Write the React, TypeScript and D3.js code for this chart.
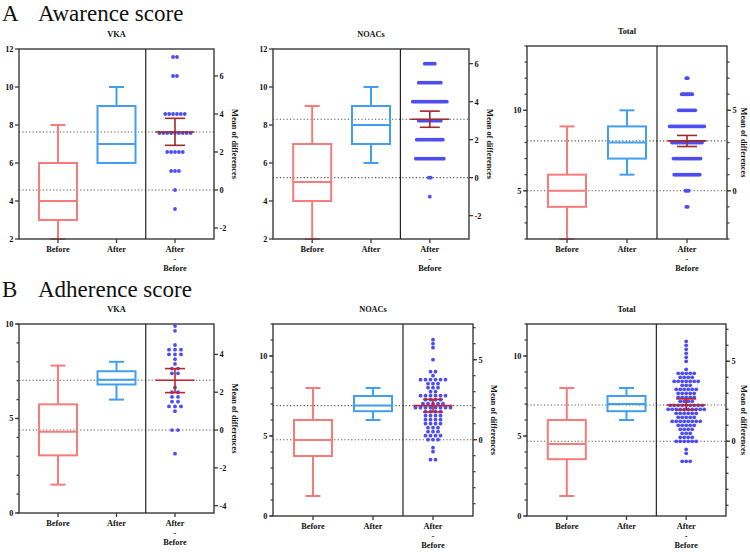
import * as d3 from 'd3'

// categories and titles
const groups = ['Before', 'After', 'After - Before']
const sectionLetters = ['A', 'B']
const sectionTitles = ['Awarence score', 'Adherence score']
const panelTitles = ['VKA', 'NOACs', 'Total']
const rightTitle = 'Mean of differences'

// box stats: [min, q1, median, q3, max]
const awVkaBefore = [2, 3, 4, 6, 8]
const awVkaAfter = [6, 6, 7, 9, 10]
const awNoacBefore = [2, 4, 5, 7, 9]
const awNoacAfter = [6, 7, 8, 9, 10]
const awTotalBefore = [2, 4, 5, 6, 9]
const awTotalAfter = [6, 7, 8, 9, 10]
const adVkaBefore = [1.5, 3.05, 4.3, 5.75, 7.8]
const adVkaAfter = [6, 6.8, 7.05, 7.5, 8]
const adNoacBefore = [1.25, 3.75, 4.75, 6, 8]
const adNoacAfter = [6, 6.55, 6.9, 7.5, 8]
const adTotalBefore = [1.25, 3.55, 4.5, 6, 8]
const adTotalAfter = [6, 6.55, 7, 7.5, 8]

// after - before: levels and number of patients at each level
const awVkaDiffVal = [7, 6, 4, 3, 2, 1, 0, -1]
const awVkaDiffN = [2, 2, 6, 9, 5, 3, 1, 1]
const awNoacDiffVal = [6, 5, 4, 3, 2, 1, 0, -1]
const awNoacDiffN = [6, 12, 18, 12, 14, 15, 2, 1]
const awTotalDiffVal = [7, 6, 5, 4, 3, 2, 1, 0, -1]
const awTotalDiffN = [2, 8, 12, 24, 21, 19, 18, 3, 2]
const adVkaDiffVal = [5.5, 5.25, 4.5, 4.25, 4, 3.75, 3.5, 3.25, 3, 2.25, 2, 1.75, 1.5, 1.25, 1, 0, -1.25]
const adVkaDiffN = [1, 1, 1, 3, 3, 1, 1, 2, 2, 1, 2, 2, 2, 3, 1, 2, 1]
const adNoacDiffVal = [6.25, 6, 5.75, 5, 4.25, 4, 3.75, 3.5, 3.25, 3, 2.75, 2.5, 2.25, 2, 1.75, 1.5, 1.25, 1, 0.75, 0.5, 0.25, 0, -0.5, -0.75, -1.25]
const adNoacDiffN = [1, 1, 1, 1, 2, 1, 6, 3, 3, 2, 6, 4, 5, 8, 4, 4, 4, 4, 3, 3, 4, 3, 1, 1, 2]
const adTotalDiffVal = [6.25, 6, 5.75, 5.5, 5.25, 5, 4.5, 4.25, 4, 3.75, 3.5, 3.25, 3, 2.75, 2.5, 2.25, 2, 1.75, 1.5, 1.25, 1, 0.75, 0.5, 0.25, 0, -0.5, -0.75, -1.25]
const adTotalDiffN = [1, 1, 1, 1, 1, 1, 1, 5, 4, 7, 3, 6, 5, 5, 4, 9, 10, 6, 5, 8, 5, 4, 3, 4, 6, 1, 1, 3]

// mean of differences with 95% CI: [mean, low, high]
const awVkaMean = [3.05, 2.35, 3.77]
const awNoacMean = [3.07, 2.65, 3.5]
const awTotalMean = [3.1, 2.75, 3.44]
const adVkaMean = [2.63, 1.98, 3.25]
const adNoacMean = [2.13, 1.73, 2.52]
const adTotalMean = [2.27, 1.96, 2.65]

// before mean (right axis 0 lines up with it)
const awRef = [4.58, 5.23, 5.0]
const adRef = [4.39, 4.77, 4.67]

// axis ranges and ticks
const awDomains = [[2, 12], [2, 12], [2, 14]]
const adDomains = [[0, 10], [0, 12], [0, 12]]
const awLeftTicks = [[2, 4, 6, 8, 10, 12], [2, 4, 6, 8, 10, 12], [5, 10]]
const awRightTicks = [[-2, 0, 2, 4, 6], [-2, 0, 2, 4, 6], [0, 5]]
const adLeftTicks = [[0, 5, 10], [0, 5, 10], [0, 5, 10]]
const adRightTicks = [[-4, -2, 0, 2, 4], [0, 5], [0, 5]]
const awLeftMinor = [[], [], d3.range(2, 15)]
const awRightMinor = [[], [], d3.range(-3, 9)]
const adLeftMinor = [d3.range(0, 11), d3.range(0, 13), d3.range(0, 13)]
const adRightMinor = [[], d3.range(-4, 8), d3.range(-4, 8)]

// panel frames
const awFrames = [
  { x0: 19, x1: 214, top: 49, bottom: 239 },
  { x0: 273, x1: 469, top: 49, bottom: 239 },
  { x0: 527, x1: 727, top: 46, bottom: 239 },
]
const adFrames = [
  { x0: 19, x1: 214, top: 324, bottom: 513 },
  { x0: 273, x1: 473, top: 324, bottom: 516 },
  { x0: 527, x1: 726, top: 324, bottom: 516 },
]
const awSpacing = [3.9, 2, 1.5]
const adSpacing = [6, 5, 4]

const FONT = '"Liberation Serif", "DejaVu Serif", serif'
const BEFORE_COL = '#f67c7c'
const AFTER_COL = '#429ff0'
const DOT_COL = '#4d4df2'
const AXIS_COL = '#3a3a3a'

const panels = [
  ...[0, 1, 2].map((i) => ({
    frame: awFrames[i],
    title: panelTitles[i],
    domain: awDomains[i],
    ref: awRef[i],
    before: [awVkaBefore, awNoacBefore, awTotalBefore][i],
    after: [awVkaAfter, awNoacAfter, awTotalAfter][i],
    diffVal: [awVkaDiffVal, awNoacDiffVal, awTotalDiffVal][i],
    diffN: [awVkaDiffN, awNoacDiffN, awTotalDiffN][i],
    mean: [awVkaMean, awNoacMean, awTotalMean][i],
    leftTicks: awLeftTicks[i],
    rightTicks: awRightTicks[i],
    leftMinor: awLeftMinor[i],
    rightMinor: awRightMinor[i],
    spacing: awSpacing[i],
    meanCol: '#a3282a',
  })),
  ...[0, 1, 2].map((i) => ({
    frame: adFrames[i],
    title: panelTitles[i],
    domain: adDomains[i],
    ref: adRef[i],
    before: [adVkaBefore, adNoacBefore, adTotalBefore][i],
    after: [adVkaAfter, adNoacAfter, adTotalAfter][i],
    diffVal: [adVkaDiffVal, adNoacDiffVal, adTotalDiffVal][i],
    diffN: [adVkaDiffN, adNoacDiffN, adTotalDiffN][i],
    mean: [adVkaMean, adNoacMean, adTotalMean][i],
    leftTicks: adLeftTicks[i],
    rightTicks: adRightTicks[i],
    leftMinor: adLeftMinor[i],
    rightMinor: adRightMinor[i],
    spacing: adSpacing[i],
    meanCol: '#bd262c',
  })),
]

function Box({ stats, cx, y, color }: any) {
  const [mn, q1, md, q3, mx] = stats
  const bw = 38
  const cw = 15
  return (
    <g stroke={color} strokeWidth={2} fill="none">
      <line x1={cx} x2={cx} y1={y(q3)} y2={y(mx)} />
      <line x1={cx} x2={cx} y1={y(q1)} y2={y(mn)} />
      <line x1={cx - cw / 2} x2={cx + cw / 2} y1={y(mx)} y2={y(mx)} />
      <line x1={cx - cw / 2} x2={cx + cw / 2} y1={y(mn)} y2={y(mn)} />
      <rect x={cx - bw / 2} y={y(q3)} width={bw} height={y(q1) - y(q3)} />
      <line x1={cx - bw / 2} x2={cx + bw / 2} y1={y(md)} y2={y(md)} />
    </g>
  )
}

function Panel({ p }: any) {
  const { x0, x1, top, bottom } = p.frame
  const y = d3.scaleLinear().domain(p.domain).range([bottom, top])
  const y2 = d3.scaleLinear().domain([p.domain[0] - p.ref, p.domain[1] - p.ref]).range([bottom, top])
  const x = d3.scalePoint<string>().domain(groups).range([x0, x1]).padding(2 / 3)
  const xb = x('Before')!
  const xa = x('After')!
  const xd = x('After - Before')!
  const divX = (xa + xd) / 2
  const [m, lo, hi] = p.mean
  const titleX = Math.min(x1 + 21, 744)

  const dots: { cx: number; cy: number }[] = []
  p.diffVal.forEach((v: number, k: number) => {
    const n = p.diffN[k]
    for (let i = 0; i < n; i++) dots.push({ cx: xd + (i - (n - 1) / 2) * p.spacing, cy: y2(v) })
  })

  const lab = { style: { fontFamily: FONT, fontWeight: 700, fontSize: '8.3px' }, fill: '#111' }

  return (
    <g>
      <text x={(x0 + x1) / 2} y={top - 12} textAnchor="middle" {...lab}>{p.title}</text>

      {/* reference lines */}
      {[0, m].map((v, i) => (
        <line key={i} x1={x0} x2={x1} y1={y2(v)} y2={y2(v)} stroke="#555" strokeWidth={1.1} strokeDasharray="1.2 2.2" />
      ))}

      <Box stats={p.before} cx={xb} y={y} color={BEFORE_COL} />
      <Box stats={p.after} cx={xa} y={y} color={AFTER_COL} />

      {dots.map((d, i) => (
        <circle key={i} cx={d.cx} cy={d.cy} r={1.9} fill={DOT_COL} />
      ))}

      <g stroke={p.meanCol} strokeWidth={1.6}>
        <line x1={xd - 19.5} x2={xd + 19.5} y1={y2(m)} y2={y2(m)} />
        <line x1={xd} x2={xd} y1={y2(lo)} y2={y2(hi)} />
        <line x1={xd - 10} x2={xd + 10} y1={y2(lo)} y2={y2(lo)} />
        <line x1={xd - 10} x2={xd + 10} y1={y2(hi)} y2={y2(hi)} />
      </g>

      {/* frame and divider */}
      <rect x={x0} y={top} width={x1 - x0} height={bottom - top} fill="none" stroke={AXIS_COL} strokeWidth={1.4} />
      <line x1={divX} x2={divX} y1={top} y2={bottom} stroke="#222" strokeWidth={1.2} />

      {/* left axis */}
      {p.leftMinor.map((t: number) => (
        <line key={'lm' + t} x1={x0 - 2.5} x2={x0} y1={y(t)} y2={y(t)} stroke={AXIS_COL} strokeWidth={1.2} />
      ))}
      {p.leftTicks.map((t: number) => (
        <g key={'l' + t}>
          <line x1={x0 - 4} x2={x0} y1={y(t)} y2={y(t)} stroke={AXIS_COL} strokeWidth={1.3} />
          <text x={x0 - 5.5} y={y(t)} dy="0.35em" textAnchor="end" {...lab}>{t}</text>
        </g>
      ))}

      {/* right axis */}
      {p.rightMinor.map((t: number) => (
        <line key={'rm' + t} x1={x1} x2={x1 + 2.5} y1={y2(t)} y2={y2(t)} stroke={AXIS_COL} strokeWidth={1.2} />
      ))}
      {p.rightTicks.map((t: number) => (
        <g key={'r' + t}>
          <line x1={x1} x2={x1 + 4} y1={y2(t)} y2={y2(t)} stroke={AXIS_COL} strokeWidth={1.3} />
          <text x={x1 + 5.5} y={y2(t)} dy="0.35em" textAnchor="start" {...lab}>{t}</text>
        </g>
      ))}
      <text transform={`translate(${titleX},${(top + bottom) / 2}) rotate(90)`} textAnchor="middle" dy="0.35em" {...lab}>
        {rightTitle}
      </text>

      {/* bottom axis */}
      {groups.map((g) => (
        <line key={g} x1={x(g)!} x2={x(g)!} y1={bottom} y2={bottom + 4} stroke={AXIS_COL} strokeWidth={1.3} />
      ))}
      <text x={xb} y={bottom + 13} textAnchor="middle" {...lab}>{groups[0]}</text>
      <text x={xa} y={bottom + 13} textAnchor="middle" {...lab}>{groups[1]}</text>
      {groups[2].split(' ').map((w, i) => (
        <text key={i} x={xd} y={bottom + 13 + i * 9.5} textAnchor="middle" {...lab}>{w}</text>
      ))}
    </g>
  )
}

export default function App() {
  const sectionY = [21, 297]
  return (
    <svg width={750} height={552} style={{ position: 'absolute', left: 0, top: 0, background: '#fff' }}>
      <rect width={750} height={552} fill="#fff" />
      {sectionLetters.map((l, i) => (
        <g key={l} style={{ fontFamily: FONT, fontSize: '23px' }} fill="#111">
          <text x={2} y={sectionY[i]}>{l}</text>
          <text x={38} y={sectionY[i]}>{sectionTitles[i]}</text>
        </g>
      ))}
      {panels.map((p, i) => (
        <Panel key={i} p={p} />
      ))}
    </svg>
  )
}
